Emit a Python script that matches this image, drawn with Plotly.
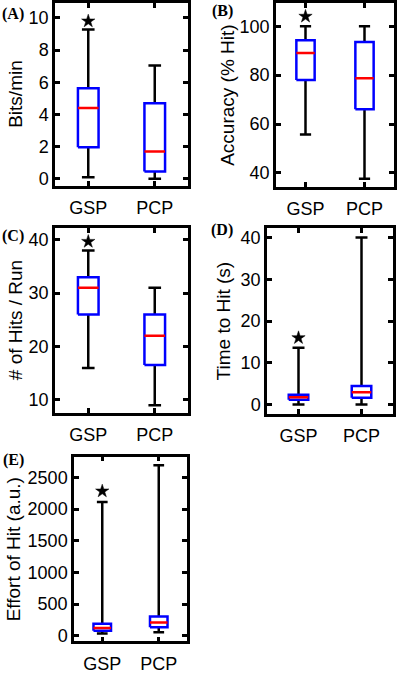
import plotly.graph_objects as go

# ---------------- data ----------------
categories = ["GSP", "PCP"]
cat_pos = [1, 2]

# (A) Bits/min
bits_lower = [0.1, 0.0]
bits_q1 = [1.95, 0.45]
bits_med = [4.4, 1.7]
bits_q3 = [5.62, 4.7]
bits_upper = [9.28, 7.04]
bits_star = [9.8, None]
bits_ticks = [0, 2, 4, 6, 8, 10]

# (B) Accuracy (% Hit)
acc_lower = [55.7, 37.6]
acc_q1 = [78.0, 66.0]
acc_med = [89.0, 78.7]
acc_q3 = [94.3, 93.5]
acc_upper = [100.0, 100.0]
acc_star = [104.0, None]
acc_ticks = [40, 60, 80, 100]

# (C) # of Hits / Run
hits_lower = [15.9, 8.9]
hits_q1 = [26.0, 16.5]
hits_med = [31.0, 22.0]
hits_q3 = [33.0, 26.0]
hits_upper = [38.0, 31.0]
hits_star = [39.7, None]
hits_ticks = [10, 20, 30, 40]

# (D) Time to Hit (s)
time_lower = [0.05, 0.05]
time_q1 = [1.17, 1.65]
time_med = [1.8, 3.0]
time_q3 = [2.4, 4.5]
time_upper = [13.6, 40.0]
time_star = [16.0, None]
time_ticks = [0, 10, 20, 30, 40]

# (E) Effort of Hit (a.u.)
eff_lower = [35, 55]
eff_q1 = [80, 135]
eff_med = [125, 210]
eff_q3 = [190, 305]
eff_upper = [2112, 2691]
eff_star = [2283, None]
eff_ticks = [0, 500, 1000, 1500, 2000, 2500]

# ---------------- layout / style ----------------
W, H = 400, 674
BOX_HALF = 0.155
CAP_HALF = 0.095
LW = 2.5
TICK_FONT = dict(family="Liberation Sans, Arial, sans-serif", size=18, color="black")
TITLE_FONT = dict(family="Liberation Sans, Arial, sans-serif", size=19, color="black")
LABEL_FONT = dict(family="Liberation Serif, Times New Roman, serif", size=16, color="black")

panels = [
    dict(label="(A)", title="Bits/min", lower=bits_lower, q1=bits_q1, med=bits_med, q3=bits_q3,
         upper=bits_upper, star=bits_star, ticks=bits_ticks, yrange=[-0.43, 10.93],
         box_px=(55, 188, 2, 188), title_x=15.5, label_xy=(13, 13)),
    dict(label="(B)", title="Accuracy (% Hit)", lower=acc_lower, q1=acc_q1, med=acc_med, q3=acc_q3,
         upper=acc_upper, star=acc_star, ticks=acc_ticks, yrange=[34.4, 109.5],
         box_px=(276, 394, 2, 189), title_x=228, label_xy=(222, 10)),
    dict(label="(C)", title="# of Hits / Run", lower=hits_lower, q1=hits_q1, med=hits_med, q3=hits_q3,
         upper=hits_upper, star=hits_star, ticks=hits_ticks, yrange=[7.54, 42.27],
         box_px=(55, 188, 231, 419), title_x=15, label_xy=(13, 239)),
    dict(label="(D)", title="Time to Hit (s)", lower=time_lower, q1=time_q1, med=time_med, q3=time_q3,
         upper=time_upper, star=time_star, ticks=time_ticks, yrange=[-2.1, 42.28],
         box_px=(267, 393, 231, 420), title_x=223.7, label_xy=(222, 233)),
    dict(label="(E)", title="Effort of Hit (a.u.)", lower=eff_lower, q1=eff_q1, med=eff_med, q3=eff_q3,
         upper=eff_upper, star=eff_star, ticks=eff_ticks, yrange=[-88, 2826],
         box_px=(74, 187, 464, 652), title_x=13.3, label_xy=(13, 467)),
]

fig = go.Figure()
annotations = []
layout_axes = {}

for i, p in enumerate(panels, start=1):
    xa = "x" if i == 1 else f"x{i}"
    ya = "y" if i == 1 else f"y{i}"
    wx, wy, cx, cy, bx, by, mx, my = [], [], [], [], [], [], [], []
    sx, sy = [], []
    for c, lo, a, m, b, hi, st in zip(cat_pos, p["lower"], p["q1"], p["med"], p["q3"], p["upper"], p["star"]):
        wx += [c, c, None, c, c, None]
        wy += [lo, a, None, b, hi, None]
        cx += [c - CAP_HALF, c + CAP_HALF, None, c - CAP_HALF, c + CAP_HALF, None]
        cy += [lo, lo, None, hi, hi, None]
        bx += [c - BOX_HALF, c + BOX_HALF, c + BOX_HALF, c - BOX_HALF, c - BOX_HALF, None]
        by += [a, a, b, b, a, None]
        mx += [c - BOX_HALF, c + BOX_HALF, None]
        my += [m, m, None]
        if st is not None:
            sx.append(c)
            sy.append(st)
    common = dict(xaxis=xa, yaxis=ya, mode="lines", showlegend=False, hoverinfo="skip")
    fig.add_trace(go.Scatter(x=wx, y=wy, line=dict(color="black", width=LW), **common))
    fig.add_trace(go.Scatter(x=cx, y=cy, line=dict(color="black", width=LW), **common))
    fig.add_trace(go.Scatter(x=bx, y=by, line=dict(color="#0000ff", width=LW), **common))
    fig.add_trace(go.Scatter(x=mx, y=my, line=dict(color="#ff0000", width=LW), **common))
    fig.add_trace(go.Scatter(x=sx, y=sy, xaxis=xa, yaxis=ya, mode="markers", showlegend=False,
                             hoverinfo="skip",
                             marker=dict(symbol="star", size=10, color="black",
                                         line=dict(color="black", width=0.5))))

    x0, x1, y0, y1 = p["box_px"]
    axis_common = dict(showline=True, linewidth=LW, linecolor="black", mirror="ticks",
                       ticks="inside", ticklen=5, tickwidth=LW, tickcolor="black",
                       showgrid=False, zeroline=False, tickfont=TICK_FONT, fixedrange=True)
    xkey = "xaxis" if i == 1 else f"xaxis{i}"
    ykey = "yaxis" if i == 1 else f"yaxis{i}"
    layout_axes[xkey] = dict(domain=[x0 / W, x1 / W], anchor=ya, range=[0.5, 2.5],
                             tickvals=cat_pos, ticktext=categories, ticklabelstandoff=4,
                             **axis_common)
    layout_axes[ykey] = dict(domain=[1 - y1 / H, 1 - y0 / H], anchor=xa, range=p["yrange"],
                             tickvals=p["ticks"], ticklabelstandoff=0, **axis_common)

    annotations.append(dict(text=p["title"], xref="paper", yref="paper",
                            x=p["title_x"] / W, y=1 - ((y0 + y1) / 2) / H,
                            xanchor="center", yanchor="middle", textangle=-90,
                            showarrow=False, font=TITLE_FONT))
    lx, ly = p["label_xy"]
    annotations.append(dict(text="<b>" + p["label"] + "</b>", xref="paper", yref="paper",
                            x=lx / W, y=1 - ly / H, xanchor="center", yanchor="middle",
                            showarrow=False, font=LABEL_FONT))

fig.update_layout(width=W, height=H, margin=dict(l=0, r=0, t=0, b=0),
                  paper_bgcolor="white", plot_bgcolor="white", hovermode=False,
                  annotations=annotations, **layout_axes)

page_fix = (
    "document.documentElement.style.margin='0';"
    "document.documentElement.style.padding='0';"
    "document.documentElement.style.overflow='hidden';"
    "document.body.style.margin='0';"
    "document.body.style.padding='0';"
    "document.body.style.overflow='hidden';"
    "var gd=document.getElementById('{plot_id}');"
    "gd.style.display='block';"
    "gd.parentElement.style.height='" + str(H) + "px';"
    "gd.parentElement.style.overflow='hidden';"
)
fig.write_html("out.html", config={"displayModeBar": False}, post_script=page_fix)
